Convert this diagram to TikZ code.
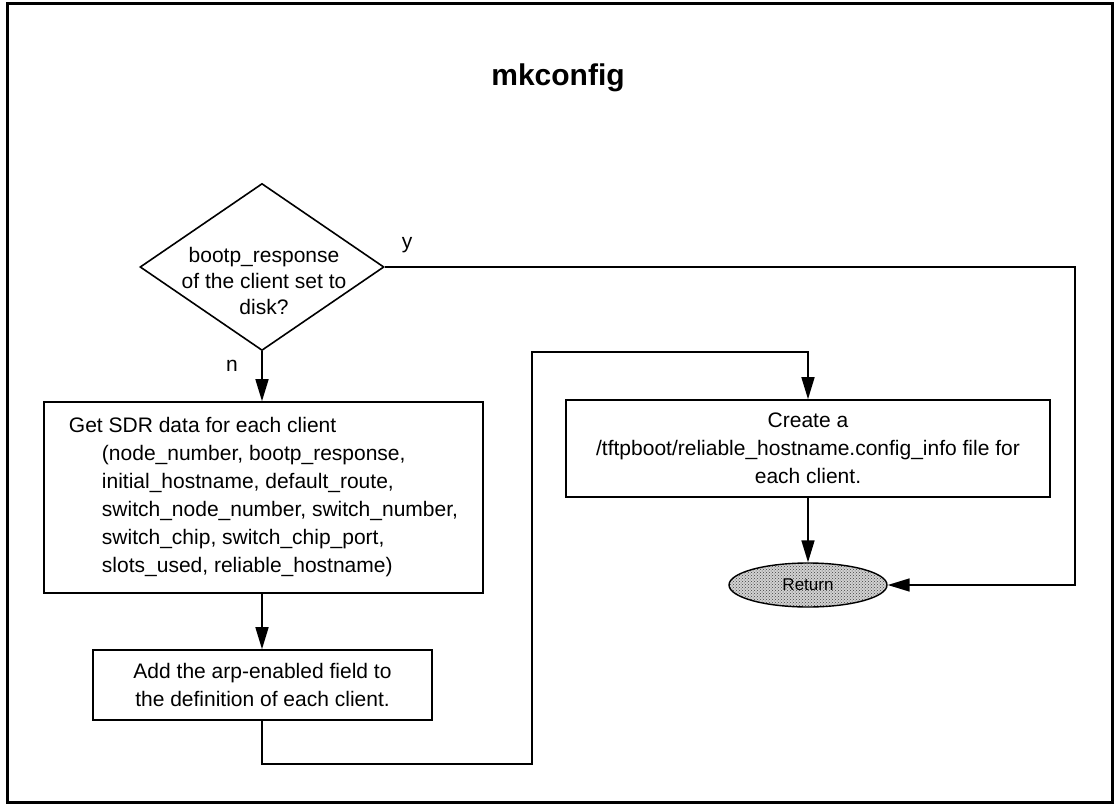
\documentclass[tikz,border=0pt]{standalone}
\usepackage{fontspec}
\setmainfont{Liberation Sans}
\usetikzlibrary{shapes.geometric,arrows.meta,patterns}

\begin{document}
\begin{tikzpicture}[x=1pt, y=-1pt,
  box/.style={draw, line width=1.6pt, inner sep=0pt, font=\fontsize{21}{28}\selectfont, align=center},
  decision/.style={draw, diamond, line width=1.6pt, inner sep=0pt, minimum width=244pt, minimum height=167pt},
  flow/.style={line width=1.6pt, -{Triangle[length=22pt,width=13pt]}},
  lbl/.style={font=\fontsize{21}{26}\selectfont}]
\useasboundingbox (0,0) rectangle (1116,805);

% Frame
\draw[line width=3pt] (7,4) rectangle (1112,802);

% Title
\node[font=\fontsize{30}{36}\selectfont\bfseries] (title) at (558,78) {mkconfig};

% Decision
\node[decision] (bootchk) at (262,267) {};
\node[lbl, align=center] (bootq) at (264,281) {bootp\_response\\of the client set to\\disk?};
\node[lbl] (ylab) at (407,245) {y};
\node[lbl] (nlab) at (232,366) {n};

% Process boxes
\node[box, minimum width=439pt, minimum height=191pt, align=left] (sdr) at (263.5,497.5)
  {Get SDR data for each client\\
   \hspace*{33pt}(node\_number, bootp\_response,\\
   \hspace*{33pt}initial\_hostname, default\_route,\\
   \hspace*{33pt}switch\_node\_number, switch\_number,\\
   \hspace*{33pt}switch\_chip, switch\_chip\_port,\\
   \hspace*{33pt}slots\_used, reliable\_hostname)};
\node[box, minimum width=339pt, minimum height=70pt] (arp) at (262.5,685)
  {Add the arp-enabled field to\\the definition of each client.};
\node[box, minimum width=484pt, minimum height=97pt] (cfg) at (808,448.5)
  {Create a\\/tftpboot/reliable\_hostname.config\_info file for\\each client.};

% Terminator
\node[ellipse, draw, line width=1.4pt, minimum width=158pt, minimum height=44pt, inner sep=0pt,
  preaction={fill=gray!35}, pattern=crosshatch dots, pattern color=black!75,
  font=\fontsize{17}{20}\selectfont] (ret) at (808,585) {Return};

% Connectors
\coordinate (yturn) at (1075,267);
\coordinate (loopbot) at (262,764);
\coordinate (looptop) at (532,352);
\draw[flow] (bootchk.east) -- (yturn) |- (ret.east);
\draw[flow] (bootchk.south) -- (bootchk.south |- sdr.north);
\draw[flow] (sdr.south -| bootchk.south) -- (arp.north -| bootchk.south);
\draw[flow] (arp.south -| loopbot) -- (loopbot) -| (looptop) -| (cfg.north);
\draw[flow] (cfg.south) -- (ret.north);

\end{tikzpicture}
\end{document}
